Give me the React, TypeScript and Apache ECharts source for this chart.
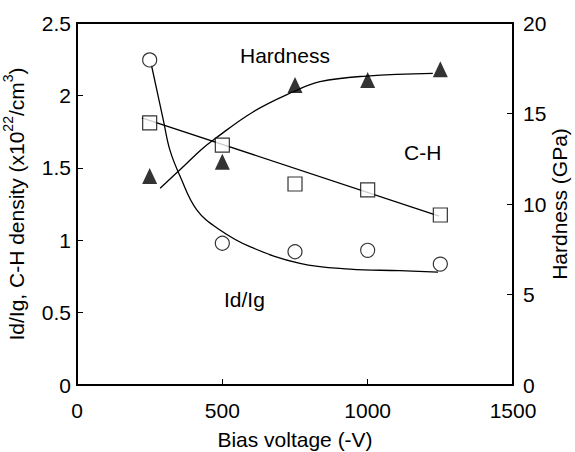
import React, { useEffect, useRef } from "react";
import * as echarts from "echarts";

// Measured points (bias voltage in -V)
const voltages = [250, 500, 750, 1000, 1250];
const idIgValues = [2.245, 0.979, 0.92, 0.93, 0.835];
const chDensityValues = [1.81, 1.657, 1.388, 1.347, 1.174];
const hardnessValues = [11.55, 12.34, 16.57, 16.85, 17.45];

// Fitted curves: [voltage, value]
const idIgFit: [number, number][] = [
  [256, 2.21], [297, 1.83], [320, 1.62], [355, 1.44], [412, 1.21], [492, 1.07],
  [595, 0.955], [767, 0.84], [939, 0.8], [1111, 0.79], [1242, 0.78],
];
const chFit: [number, number][] = [
  [223, 1.845], [1246, 1.167],
];
const hardnessFit: [number, number][] = [
  [286, 10.87], [358, 11.95], [429, 13.03], [469, 13.54], [607, 15.1],
  [744, 16.2], [836, 16.76], [996, 17.07], [1224, 17.22],
];

const xTicks = [0, 500, 1000, 1500];
const leftTicks = [0, 0.5, 1, 1.5, 2, 2.5];
const rightTicks = [0, 5, 10, 15, 20];

const FONT = "Liberation Sans, Arial, sans-serif";
const FS = 21;

export default function App() {
  const ref = useRef<HTMLDivElement>(null);
  useEffect(() => {
    if (!ref.current) return;
    const chart = echarts.init(ref.current, null, { renderer: "svg" });
    const pair = (vals: number[]) => voltages.map((v, i) => [v, vals[i]]);
    const axisCommon = {
      axisLine: { show: true, lineStyle: { color: "#000", width: 2 } },
      axisTick: { show: true, inside: true, length: 6, lineStyle: { color: "#000", width: 1 } },
      splitLine: { show: false },
      nameMoveOverlap: false,
      nameTextStyle: { color: "#000", fontSize: FS, fontFamily: FONT },
    };
    const lbl = (margin: number) => ({
      color: "#000", fontSize: FS, fontFamily: FONT, margin,
      formatter: (v: number) => String(v),
    });
    chart.setOption({
      animation: false,
      backgroundColor: "#fff",
      grid: {
        left: 77, right: 62, top: 23, bottom: 67,
        outerBoundsMode: "none", containLabel: false,
        show: true, borderColor: "#000", borderWidth: 2, backgroundColor: "transparent",
      },
      xAxis: {
        type: "value", min: xTicks[0], max: xTicks[xTicks.length - 1], interval: 500,
        ...axisCommon,
        axisLabel: lbl(15),
        name: "Bias voltage (-V)", nameLocation: "middle", nameGap: 44,
      },
      yAxis: [
        {
          type: "value", min: leftTicks[0], max: leftTicks[leftTicks.length - 1], interval: 0.5,
          ...axisCommon,
          axisLabel: lbl(6),
          name: "{m|Id/Ig, C-H density (x10}{s|22}{m|/cm}{s|3}{m|)}",
          nameLocation: "middle", nameGap: 50,
          nameTextStyle: {
            color: "#000", fontSize: FS, fontFamily: FONT,
            rich: {
              m: { fontSize: FS, fontFamily: FONT, color: "#000", lineHeight: 26, verticalAlign: "bottom" },
              s: { fontSize: 14, fontFamily: FONT, color: "#000", lineHeight: 14, verticalAlign: "top" },
            },
          },
        },
        {
          type: "value", position: "right", min: rightTicks[0], max: rightTicks[rightTicks.length - 1], interval: 5,
          ...axisCommon,
          axisLabel: lbl(10),
          name: "Hardness (GPa)", nameLocation: "middle", nameGap: 36, nameRotate: 90,
        },
      ],
      series: [
        {
          type: "line", data: idIgFit, smooth: 0.4, symbol: "none", yAxisIndex: 0,
          lineStyle: { color: "#000", width: 1.3 }, z: 2,
        },
        {
          type: "line", data: chFit, symbol: "none", yAxisIndex: 0,
          lineStyle: { color: "#000", width: 1.3 }, z: 2,
        },
        {
          type: "line", data: hardnessFit, smooth: 0.4, symbol: "none", yAxisIndex: 1,
          lineStyle: { color: "#000", width: 1.3 }, z: 2,
        },
        {
          type: "scatter", data: pair(idIgValues), symbol: "circle", symbolSize: 14, yAxisIndex: 0,
          itemStyle: { color: "#fff", borderColor: "#000", borderWidth: 1.2 }, z: 3,
        },
        {
          type: "scatter", data: pair(chDensityValues), symbol: "rect", symbolSize: 14, yAxisIndex: 0,
          itemStyle: { color: "#fff", borderColor: "#000", borderWidth: 1.2 }, z: 3,
        },
        {
          type: "scatter", data: pair(hardnessValues), symbol: "triangle", symbolSize: [15, 16], yAxisIndex: 1,
          itemStyle: { color: "#000" }, z: 3,
        },
      ],
      graphic: [
        { type: "text", x: 240, y: 55, style: { text: "Hardness", fill: "#000", font: `${FS}px ${FONT}`, verticalAlign: "middle" } },
        { type: "text", x: 404, y: 152, style: { text: "C-H", fill: "#000", font: `${FS}px ${FONT}`, verticalAlign: "middle" } },
        { type: "text", x: 224, y: 299, style: { text: "Id/Ig", fill: "#000", font: `${FS}px ${FONT}`, verticalAlign: "middle" } },
      ],
    });
    return () => chart.dispose();
  }, []);
  return (
    <div
      ref={ref}
      style={{ position: "fixed", left: 0, top: 0, width: 575, height: 452, background: "#fff" }}
    />
  );
}
